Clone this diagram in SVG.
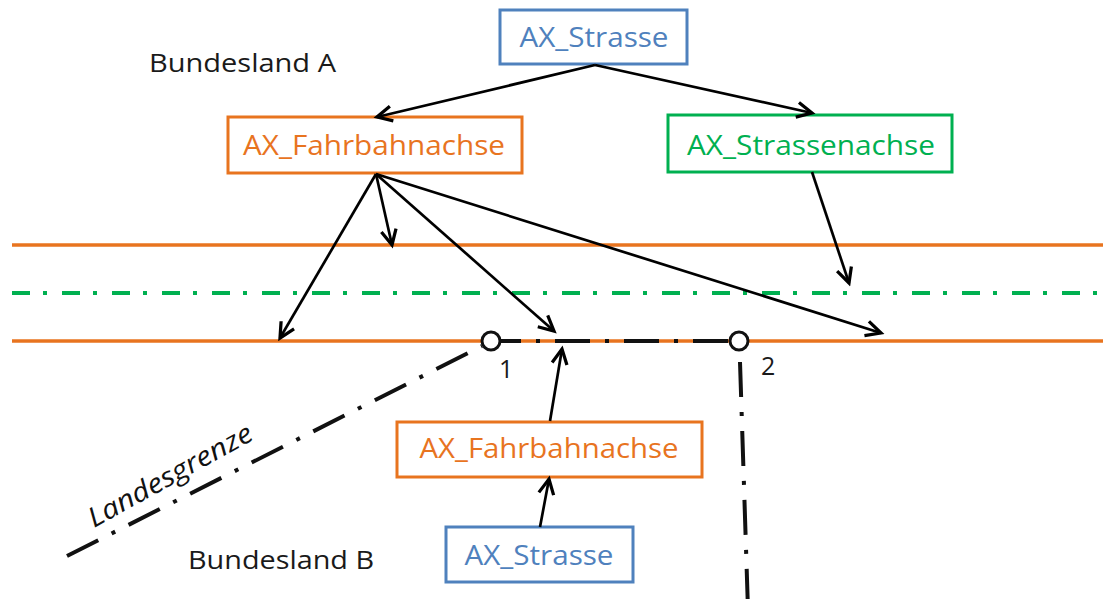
<svg xmlns="http://www.w3.org/2000/svg" width="1103" height="599" viewBox="0 0 1103 599">
<style>
text{font-family:"Open Sans","Noto Sans","Liberation Sans",sans-serif}
.lbl{font-size:28px;text-anchor:middle}
.blue rect{fill:#fff;stroke:#4F81BD;stroke-width:3}
.blue text{fill:#4F81BD}
.orange rect{fill:#fff;stroke:#E8741F;stroke-width:3}
.orange text{fill:#E8741F}
.green rect{fill:#fff;stroke:#00B050;stroke-width:3}
.green text{fill:#00B050}
.plain{font-size:26px;fill:#1a1a1a}
.num{font-size:25px;fill:#1a1a1a}
.road{stroke:#E8741F;stroke-width:3.5;fill:none}
.axis{stroke:#00B050;stroke-width:4;fill:none;stroke-dasharray:18 13 4 15}
.border{stroke:#111;stroke-width:4;fill:none;stroke-dasharray:35 15 4 15}
.conn line{stroke:#000;stroke-width:2.7;marker-end:url(#arr)}
.pt{fill:#fff;stroke:#111;stroke-width:3}
</style>
<defs>
<marker id="arr" markerUnits="userSpaceOnUse" markerWidth="20" markerHeight="20" refX="13" refY="7" orient="auto" viewBox="0 0 16 14">
<path d="M1,1 L13,7 L1,13" fill="none" stroke="#000" stroke-width="2.6" stroke-linejoin="miter"/>
</marker>
</defs>

<g id="roads">
<line class="road" x1="12" y1="245" x2="1103" y2="245"/>
<line class="axis" x1="12" y1="293" x2="1103" y2="293"/>
<line class="road" x1="12" y1="341" x2="1103" y2="341"/>
</g>

<g id="grenze">
<line class="border" x1="728" y1="341" x2="500" y2="341"/>
<line class="border" x1="67" y1="556" x2="482" y2="346"/>
<line class="border" x1="740" y1="362" x2="748" y2="610"/>
<circle class="pt" cx="491" cy="341" r="9"/>
<circle class="pt" cx="739" cy="341" r="9"/>
<text class="num" x="499" y="378">1</text>
<text class="num" x="761" y="375">2</text>
<text x="0" y="0" transform="translate(94,528) rotate(-29)" textLength="184" lengthAdjust="spacingAndGlyphs" style="font-size:27px;font-style:italic;fill:#111">Landesgrenze</text>
</g>

<text class="plain" x="149" y="72" textLength="187" lengthAdjust="spacingAndGlyphs">Bundesland A</text>
<text class="plain" x="188" y="569" textLength="186" lengthAdjust="spacingAndGlyphs">Bundesland B</text>

<g id="strasse_a" class="blue">
<rect x="500" y="10" width="187" height="54"/>
<text class="lbl" x="594" y="47" textLength="149" lengthAdjust="spacingAndGlyphs">AX_Strasse</text>
</g>
<g id="fahrbahn_a" class="orange">
<rect x="228" y="117" width="294" height="56"/>
<text class="lbl" x="374" y="155" textLength="262" lengthAdjust="spacingAndGlyphs">AX_Fahrbahnachse</text>
</g>
<g id="strassenachse" class="green">
<rect x="668" y="115" width="284" height="57"/>
<text class="lbl" x="811" y="155" textLength="248" lengthAdjust="spacingAndGlyphs">AX_Strassenachse</text>
</g>
<g id="fahrbahn_b" class="orange">
<rect x="397" y="422" width="305" height="55"/>
<text class="lbl" x="549" y="458" textLength="259" lengthAdjust="spacingAndGlyphs">AX_Fahrbahnachse</text>
</g>
<g id="strasse_b" class="blue">
<rect x="446" y="527" width="187" height="55"/>
<text class="lbl" x="539" y="565" textLength="149" lengthAdjust="spacingAndGlyphs">AX_Strasse</text>
</g>

<g id="connectors" class="conn">
<line x1="595" y1="65" x2="377" y2="117"/>
<line x1="595" y1="65" x2="812" y2="113"/>
<line x1="376" y1="174" x2="280" y2="338"/>
<line x1="376" y1="174" x2="392" y2="245"/>
<line x1="376" y1="174" x2="554" y2="331"/>
<line x1="376" y1="174" x2="881" y2="333"/>
<line x1="812" y1="172" x2="849" y2="283"/>
<line x1="550" y1="421" x2="562" y2="349"/>
<line x1="540" y1="527" x2="549" y2="479"/>
</g>
</svg>
